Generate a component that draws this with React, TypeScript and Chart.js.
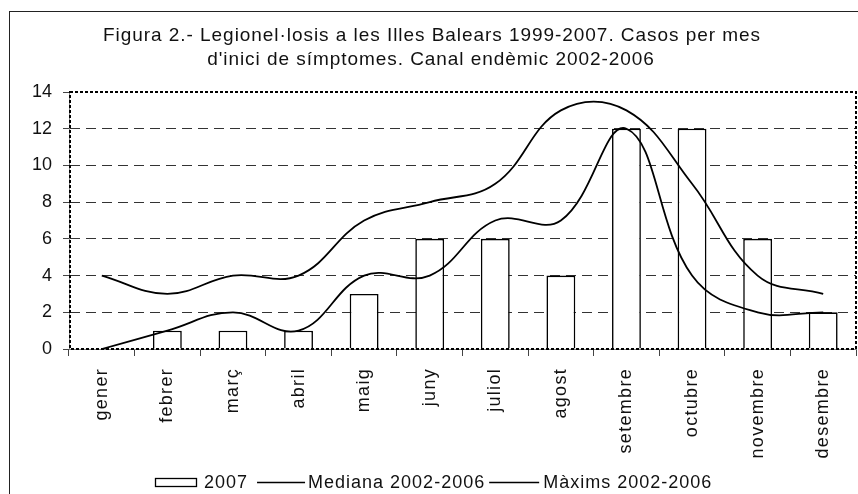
import React, { useEffect, useRef } from 'react';
import { Chart, registerables } from 'chart.js';

Chart.register(...registerables);

const months = ['gener', 'febrer', 'març', 'abril', 'maig', 'juny', 'juliol', 'agost', 'setembre', 'octubre', 'novembre', 'desembre'];
const cases2007 = [0, 1, 1, 1, 3, 6, 6, 4, 12, 12, 6, 2];
const median0206 = [0, 1, 2, 1, 4, 4, 7, 7, 12, 4, 2, 2];
const max0206 = [4, 3, 4, 4, 7, 8, 9, 13, 13, 9, 4, 3];
const yMin = 0;
const yMax = 14;
const yStep = 2;
const titleLines = [
  'Figura 2.- Legionel·losis a les Illes Balears 1999-2007. Casos per mes',
  "d'inici de símptomes. Canal endèmic 2002-2006",
];
const legendLabels = ['2007', 'Mediana 2002-2006', 'Màxims 2002-2006'];

const FONT = '"Liberation Sans", Arial, Helvetica, sans-serif';
const W = 858;
const H = 494;

export default function App() {
  const ref = useRef<HTMLCanvasElement | null>(null);

  useEffect(() => {
    const canvas = ref.current;
    if (!canvas) return;

    const deco = {
      id: 'deco',
      beforeDraw(chart: any) {
        const ctx = chart.ctx;
        ctx.save();
        ctx.fillStyle = '#fff';
        ctx.fillRect(0, 0, chart.width, chart.height);
        ctx.strokeStyle = '#222';
        ctx.lineWidth = 1;
        ctx.strokeRect(9.5, 11.5, chart.width + 50, chart.height + 50);
        ctx.restore();
      },
      afterDatasetsDraw(chart: any) {
        const { ctx, chartArea: a } = chart;
        ctx.save();
        ctx.strokeStyle = '#000';
        ctx.lineWidth = 2;
        ctx.setLineDash([3, 2]);
        ctx.strokeRect(a.left + 1, a.top, a.right - a.left - 1, a.bottom - a.top);
        ctx.restore();
      },
      afterDraw(chart: any) {
        const ctx = chart.ctx;
        const xs = chart.scales.x;
        ctx.save();
        ctx.fillStyle = '#111';
        // title
        ctx.font = `19px ${FONT}`;
        (ctx as any).letterSpacing = '0.95px';
        ctx.textAlign = 'center';
        ctx.textBaseline = 'alphabetic';
        ctx.fillText(titleLines[0], 432, 41);
        ctx.fillText(titleLines[1], 431, 65);
        // x labels
        ctx.font = `18px ${FONT}`;
        (ctx as any).letterSpacing = '1.3px';
        months.forEach((m, i) => {
          const x = xs.getPixelForValue(i);
          ctx.save();
          ctx.translate(x, 368);
          ctx.rotate(-Math.PI / 2);
          ctx.textAlign = 'right';
          ctx.textBaseline = 'middle';
          ctx.fillText(m, 0, 0);
          ctx.restore();
        });
        // legend
        ctx.font = `18px ${FONT}`;
        (ctx as any).letterSpacing = '1px';
        ctx.textAlign = 'left';
        ctx.textBaseline = 'alphabetic';
        const base = 487.5;
        let x = 155;
        ctx.strokeStyle = '#000';
        ctx.lineWidth = 1.3;
        ctx.strokeRect(x + 0.5, 478.5, 41, 8);
        x += 49;
        ctx.fillText(legendLabels[0], x, base);
        x += ctx.measureText(legendLabels[0]).width + 9;
        ctx.beginPath();
        ctx.moveTo(x, 482.5);
        ctx.lineTo(x + 48, 482.5);
        ctx.stroke();
        x += 51;
        ctx.fillText(legendLabels[1], x, base);
        x += ctx.measureText(legendLabels[1]).width + 4;
        ctx.beginPath();
        ctx.moveTo(x, 482.5);
        ctx.lineTo(x + 50, 482.5);
        ctx.stroke();
        x += 54;
        ctx.fillText(legendLabels[2], x, base);
        ctx.restore();
      },
    };

    const chart = new Chart(canvas, {
      type: 'bar',
      data: {
        labels: months,
        datasets: [
          {
            type: 'bar',
            label: legendLabels[0],
            data: cases2007,
            backgroundColor: '#fff',
            borderColor: '#000',
            borderWidth: 1.6,
            barPercentage: 0.44,
            categoryPercentage: 1,
            order: 2,
          },
          {
            type: 'line',
            label: legendLabels[1],
            data: median0206,
            borderColor: '#000',
            borderWidth: 1.8,
            pointRadius: 0,
            tension: 0.4,
            fill: false,
            order: 1,
          },
          {
            type: 'line',
            label: legendLabels[2],
            data: max0206,
            borderColor: '#000',
            borderWidth: 1.8,
            pointRadius: 0,
            tension: 0.4,
            fill: false,
            order: 1,
          },
        ] as any,
      },
      options: {
        animation: false,
        responsive: false,
        maintainAspectRatio: false,
        devicePixelRatio: 1,
        layout: { padding: { left: 0, top: 92, right: 2, bottom: 40 } },
        plugins: {
          legend: { display: false },
          title: { display: false },
          tooltip: { enabled: false },
        },
        scales: {
          x: {
            offset: true,
            grid: {
              offset: true,
              drawOnChartArea: false,
              drawTicks: true,
              tickLength: 7,
              tickColor: '#444',
              lineWidth: 1,
            },
            border: { display: true, color: '#808080', width: 1 },
            ticks: {
              color: 'rgba(0,0,0,0)',
              autoSkip: false,
              maxRotation: 90,
              minRotation: 90,
              font: { family: FONT, size: 18 },
            },
            afterFit(scale: any) {
              scale.height = 105;
              scale.paddingLeft = 0;
              scale.paddingRight = 0;
            },
          },
          y: {
            min: yMin,
            max: yMax,
            ticks: {
              stepSize: yStep,
              color: '#111',
              padding: 11,
              font: { family: FONT, size: 18 },
            },
            grid: {
              color: (c: any) => (c.tick && (c.tick.value === yMin || c.tick.value === yMax) ? 'rgba(0,0,0,0)' : '#333'),
              tickColor: '#444',
              tickLength: 6,
              lineWidth: 1,
            },
            border: { display: true, color: '#808080', width: 1, dash: [10, 6] },
            afterFit(scale: any) {
              scale.width = 69;
              scale.paddingTop = 0;
              scale.paddingBottom = 0;
            },
          },
        },
      },
      plugins: [deco],
    });

    return () => chart.destroy();
  }, []);

  return (
    <div style={{ position: 'fixed', left: 0, top: 0, width: W, height: H, overflow: 'hidden', background: '#fff' }}>
      <canvas ref={ref} width={W} height={H} style={{ width: W, height: H, display: 'block' }} />
    </div>
  );
}
